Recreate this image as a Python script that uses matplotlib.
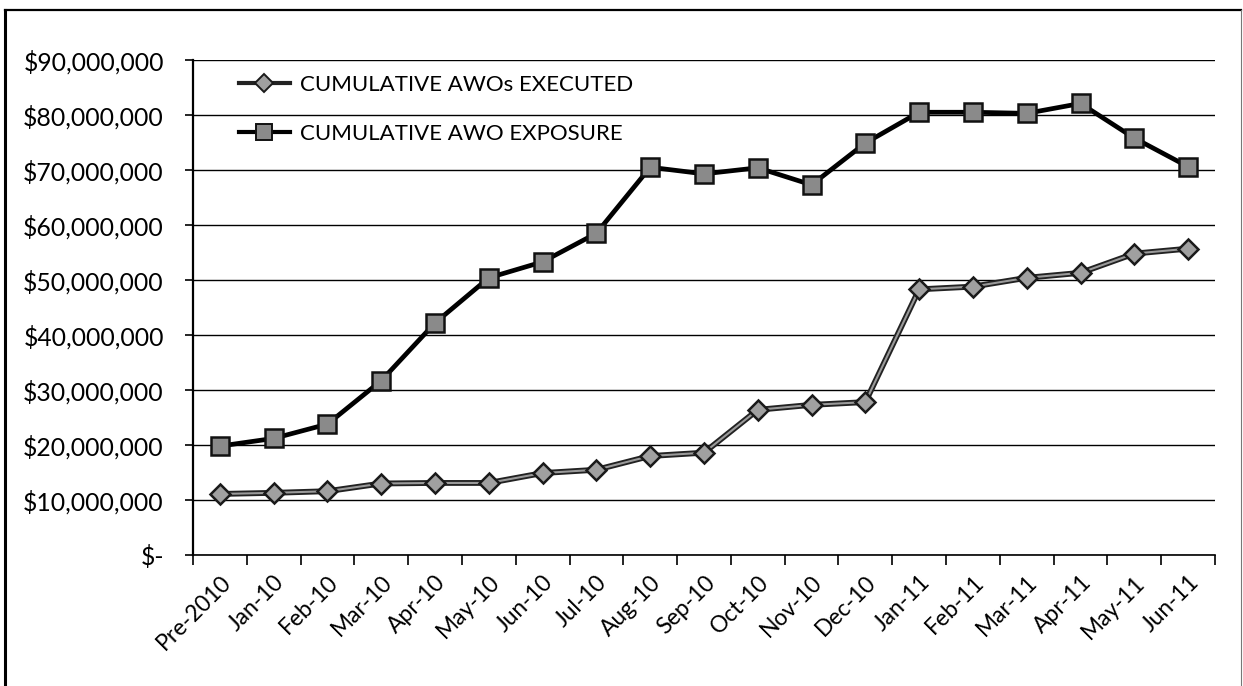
import matplotlib
matplotlib.use("Agg")
import matplotlib.pyplot as plt
from matplotlib.lines import Line2D
from matplotlib.ticker import FuncFormatter, FixedLocator, NullFormatter

# Monthly categories
months = ["Pre-2010", "Jan-10", "Feb-10", "Mar-10", "Apr-10", "May-10", "Jun-10",
          "Jul-10", "Aug-10", "Sep-10", "Oct-10", "Nov-10", "Dec-10", "Jan-11",
          "Feb-11", "Mar-11", "Apr-11", "May-11", "Jun-11"]

# Cumulative AWOs executed (dollars)
awos_executed = [11.1e6, 11.3e6, 11.6e6, 13.0e6, 13.1e6, 13.1e6, 14.9e6, 15.5e6,
                 18.0e6, 18.6e6, 26.4e6, 27.3e6, 27.8e6, 48.3e6, 48.8e6, 50.4e6,
                 51.3e6, 54.8e6, 55.7e6]

# Cumulative AWO exposure (dollars)
awo_exposure = [19.8e6, 21.2e6, 23.8e6, 31.7e6, 42.2e6, 50.4e6, 53.3e6, 58.5e6,
                70.5e6, 69.3e6, 70.4e6, 67.3e6, 74.9e6, 80.5e6, 80.5e6, 80.3e6,
                82.1e6, 75.8e6, 70.6e6]

y_ticks = list(range(0, 90_000_001, 10_000_000))

font = ["Lato", "DejaVu Sans"]
plt.rcParams["font.family"] = font

fig = plt.figure(figsize=(12.43, 6.86), dpi=100)
ax = fig.add_axes([193 / 1243, 1 - 555 / 686, (1215 - 193) / 1243, (555 - 60) / 686])

x = list(range(len(months)))

# Exposure series: heavy black line with grey square markers
ax.plot(x, awo_exposure, color="black", lw=3.4, zorder=4,
        marker="s", ms=12.5, mfc="#8a8a8a", mec="#111111", mew=1.8)

# Executed series: dark outlined grey line with diamond markers
ax.plot(x, awos_executed, color="#222222", lw=4.2, zorder=3, solid_capstyle="round")
ax.plot(x, awos_executed, color="#9a9a9a", lw=1.5, zorder=3.5,
        marker="D", ms=10, mfc="#a0a0a0", mec="#1a1a1a", mew=1.8)

ax.set_xlim(-0.5, len(months) - 0.5)
ax.set_ylim(0, 90_000_000)
ax.set_yticks(y_ticks)


def money(v, pos):
    if v == 0:
        return "$-"
    return "${:,.0f}".format(v)


ax.yaxis.set_major_formatter(FuncFormatter(money))
ax.grid(axis="y", color="black", lw=1.0)
ax.set_axisbelow(True)

# Category labels centred on points, tick marks between categories
ax.set_xticks(x)
ax.set_xticklabels(months, rotation=45, ha="right", rotation_mode="anchor")
ax.tick_params(axis="x", which="major", length=0, pad=12, labelsize=16.5)
ax.xaxis.set_minor_locator(FixedLocator([i - 0.5 for i in range(len(months) + 1)]))
ax.xaxis.set_minor_formatter(NullFormatter())
ax.tick_params(axis="x", which="minor", length=7, width=1.2, direction="out")
ax.tick_params(axis="y", length=6, width=1.2, direction="out", labelsize=17.8, pad=15)

for side in ("top", "right"):
    ax.spines[side].set_visible(False)
ax.spines["left"].set_linewidth(1.6)
ax.spines["bottom"].set_linewidth(1.2)

# Legend entries drawn as line+marker handles
h_exec = Line2D([], [], color="#222222", lw=3, marker="D", ms=9, mfc="#a0a0a0",
                mec="#1a1a1a", mew=1.4)
h_exp = Line2D([], [], color="black", lw=3, marker="s", ms=12, mfc="#8a8a8a",
               mec="#111111", mew=1.4)
ax.legend([h_exec, h_exp], ["CUMULATIVE AWOs EXECUTED", "CUMULATIVE AWO EXPOSURE"],
          loc="upper left", bbox_to_anchor=(0.025, 1.01), frameon=False,
          fontsize=16, handlelength=2.3, labelspacing=1.3, handletextpad=0.45)

# Outer frame of the figure
fig.add_artist(Line2D([5 / 1243, 5 / 1243], [0, 1 - 10 / 686], transform=fig.transFigure,
                      color="black", lw=2.2))
fig.add_artist(Line2D([5 / 1243, 1241 / 1243], [1 - 10 / 686, 1 - 10 / 686],
                      transform=fig.transFigure, color="black", lw=1.6))
fig.add_artist(Line2D([1241 / 1243, 1241 / 1243], [0, 1 - 10 / 686], transform=fig.transFigure,
                      color="#777777", lw=0.8))

fig.savefig("out.png", dpi=100)
